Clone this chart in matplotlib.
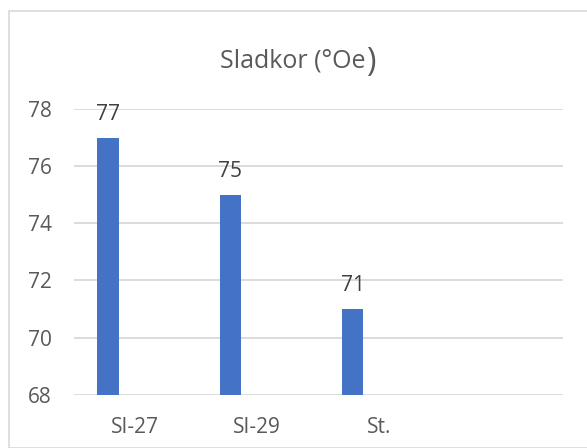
import matplotlib
matplotlib.use("Agg")
import matplotlib.pyplot as plt
from matplotlib.patches import Rectangle
import numpy as np

plt.rcParams['font.family'] = ['Open Sans', 'DejaVu Sans']

# data
categories = ['SI-27', 'SI-29', 'St.', '']
values = [77, 75, 71, None]
yticks = [68, 70, 72, 74, 76, 78]

W, H = 587, 448
fig = plt.figure(figsize=(W / 100, H / 100), dpi=100)

# chart-area border (clipped on right/bottom like the original)
fig.patches.append(Rectangle((9 / W, 0), 1.0, (H - 11) / H, transform=fig.transFigure,
                             fill=False, edgecolor='#d9d9d9', linewidth=1.2))

ax = fig.add_axes([74 / W, (H - 394.7) / H, (563 - 74) / W, (394.7 - 109) / H])

x = np.arange(len(categories))
bar_w = 0.174
offset = -0.221
for i, v in enumerate(values):
    if v is None:
        continue
    ax.bar(x[i] + offset, v - 68, bottom=68, width=bar_w, color='#4472c4', zorder=3)
    ax.annotate(str(v), (x[i] + offset, v), xytext=(0, 13), textcoords='offset points',
                ha='center', va='baseline', fontsize=15, color='#404040')

ax.set_xlim(-0.5, len(categories) - 0.5)
ax.set_ylim(68, 78)
ax.set_yticks(yticks)
ax.set_xticks(x)
ax.set_xticklabels(categories)
ax.grid(axis='y', color='#d9d9d9', linewidth=1.3, zorder=0)
for s in ax.spines.values():
    s.set_visible(False)
ax.tick_params(axis='both', length=0, labelsize=15, colors='#595959')
ax.tick_params(axis='x', pad=16)
ax.tick_params(axis='y', pad=16)

# title, with the closing bracket drawn larger as in the original
base_y = (H - 68) / H
t = fig.text(220 / W, base_y, 'Sladkor (°Oe', fontsize=18, color='#595959',
             ha='left', va='baseline')
fig.canvas.draw()
x_end = t.get_window_extent().x1 / W
fig.text(x_end + 1 / W, base_y - 3 / H, ')', fontsize=23, color='#595959',
         ha='left', va='baseline')

fig.savefig('out.png', dpi=100)
